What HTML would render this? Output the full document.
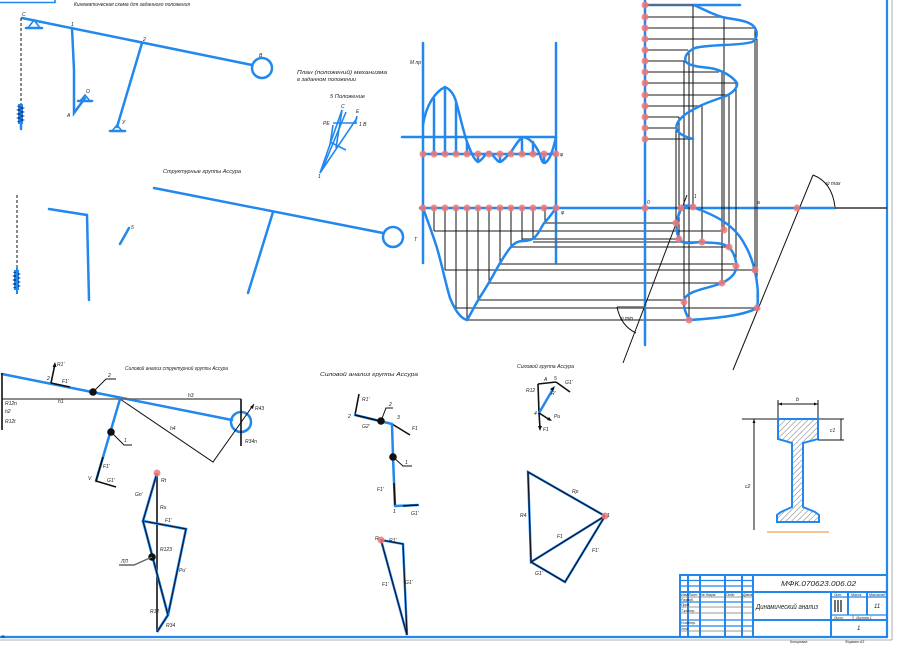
<!DOCTYPE html>
<html><head><meta charset="utf-8"><style>
html,body{margin:0;padding:0;background:#fff;}
svg{display:block;}
text{font-family:"Liberation Sans","DejaVu Sans",sans-serif;font-style:italic;fill:#222;}
.b{stroke:#2288ee;fill:none;stroke-width:2.5;stroke-linecap:round;}
.bt{stroke:#2288ee;fill:none;stroke-width:1.6;}
.k{stroke:#111;fill:none;stroke-width:1;}
.kk{stroke:#111;fill:none;stroke-width:1.6;}
.g{stroke:#666;fill:none;stroke-width:1.4;}
.p{fill:#f07878;fill-opacity:.85;}
.t{font-size:5px;}
.s{font-size:5.5px;}
</style></head><body>
<svg width="900" height="650" viewBox="0 0 900 650" xmlns="http://www.w3.org/2000/svg">
<rect width="900" height="650" fill="#fff"/>

<!-- frame -->
<path d="M0,2.5 H55 V0" class="bt"/>
<line x1="887" y1="0" x2="887" y2="637" stroke="#2288ee" stroke-width="2.2"/>
<line x1="892" y1="0" x2="892" y2="640" stroke="#999" stroke-width="0.8"/>
<line x1="0" y1="637" x2="887" y2="637" stroke="#2288ee" stroke-width="2.2"/>
<line x1="0" y1="640" x2="892" y2="640" stroke="#999" stroke-width="0.8"/>
<text x="1" y="639" font-size="7" style="font-style:normal">×</text>

<!-- ===== top-left kinematic scheme ===== -->
<text x="74" y="6" class="t" textLength="116" lengthAdjust="spacingAndGlyphs">Кинематическая схема для заданного положения</text>
<line x1="22" y1="18" x2="252" y2="65" class="b"/>
<circle cx="262" cy="68" r="10" class="b"/>
<text x="259" y="57" class="t">В</text>
<path d="M34,20 L28,28 L40,28 Z" class="bt"/><line x1="26" y1="28" x2="42" y2="28" class="b"/>
<text x="22" y="16" class="t">С</text>
<line x1="21" y1="18" x2="21" y2="127" stroke="#111" stroke-width="1" stroke-dasharray="3,2"/>
<rect x="18" y="104" width="5" height="20" fill="#2288ee"/>
<path d="M17,106 l7,2 l-7,2 l7,2 l-7,2 l7,2 l-7,2 l7,2 l-7,2" stroke="#113" stroke-width="0.6" fill="none"/>
<line x1="21" y1="124" x2="21" y2="129" class="b"/>
<polyline points="72,28 74,70 74,113 85,98" class="b"/>
<path d="M85,95 L80,101 L90,101 Z" class="bt"/><line x1="78" y1="101" x2="92" y2="101" class="b"/>
<text x="71" y="26" class="t">1</text><text x="67" y="117" class="t">А</text><text x="86" y="93" class="t">О</text>
<line x1="142" y1="43" x2="117" y2="127" class="b"/>
<path d="M117,125 L112,131 L122,131 Z" class="bt"/><line x1="110" y1="131" x2="125" y2="131" class="b"/>
<text x="143" y="41" class="t">2</text><text x="122" y="124" class="t">У</text>

<!-- second row -->
<text x="163" y="173" class="t" textLength="78" lengthAdjust="spacingAndGlyphs">Структурные группы Ассура</text>
<line x1="17" y1="195" x2="17" y2="293" stroke="#111" stroke-width="1" stroke-dasharray="3,2"/>
<rect x="14" y="270" width="5" height="20" fill="#2288ee"/>
<path d="M13,272 l7,2 l-7,2 l7,2 l-7,2 l7,2 l-7,2 l7,2 l-7,2" stroke="#113" stroke-width="0.6" fill="none"/>
<line x1="17" y1="268" x2="17" y2="294" stroke="#2288ee" stroke-width="2"/>
<polyline points="49,209 87,215 89,300" class="b"/>
<line x1="120" y1="244" x2="129" y2="228" class="b"/>
<text x="131" y="229" class="t">5</text>
<line x1="154" y1="188" x2="383" y2="233" class="b"/>
<circle cx="393" cy="237" r="10" class="b"/>
<line x1="273" y1="212" x2="248" y2="293" class="b"/>

<!-- middle small plan -->
<text x="297" y="74" class="t" textLength="90" lengthAdjust="spacingAndGlyphs">План (положений) механизма</text>
<text x="297" y="81" class="t" textLength="59" lengthAdjust="spacingAndGlyphs">в заданном положении</text>
<text x="330" y="98" class="t" textLength="35" lengthAdjust="spacingAndGlyphs">5 Положение</text>
<g class="bt">
<line x1="320" y1="173" x2="342" y2="110"/>
<line x1="322" y1="170" x2="346" y2="112"/>
<line x1="320" y1="173" x2="357" y2="118"/>
<line x1="342" y1="110" x2="336" y2="148"/>
<line x1="333" y1="123" x2="357" y2="123"/>
<line x1="357" y1="116" x2="355" y2="124"/>
<line x1="333" y1="125" x2="330" y2="145"/>
<line x1="330" y1="142" x2="346" y2="150"/>
</g>
<text x="341" y="108" class="t">С</text><text x="356" y="113" class="t">Е</text>
<text x="323" y="125" class="t">РЕ</text><text x="359" y="126" class="t">1 В</text>
<text x="318" y="178" class="t">1</text>

<!-- ===== top graph ===== -->
<line x1="423" y1="43" x2="423" y2="263" class="b"/>
<line x1="556" y1="43" x2="556" y2="263" class="b"/>
<line x1="402" y1="137" x2="556" y2="137" class="b"/>
<line x1="423" y1="154" x2="556" y2="154" class="b"/>
<text x="410" y="64" class="t">М пр</text>
<text x="560" y="156" class="t">φ</text>
<path d="M423,125 C426,105 435,92 445,87 C452,90 455,97 457,105 C461,120 463,130 467,142 C471,152 474,160 478,162 C483,160 486,152 489,152 C493,154 497,162 500,162 C505,160 508,154 511,152 C515,146 519,139 523,137 C530,138 536,145 540,155 C542,162 543,163 545,163 C550,160 553,150 556,137" class="b" stroke-width="2"/>
<g class="b" stroke-width="2">
<line x1="434" y1="154" x2="434" y2="99"/><line x1="445" y1="154" x2="445" y2="88"/>
<line x1="456" y1="154" x2="456" y2="103"/><line x1="467" y1="154" x2="467" y2="143"/>
<line x1="478" y1="154" x2="478" y2="161"/><line x1="500" y1="154" x2="500" y2="161"/>
<line x1="522" y1="154" x2="522" y2="138"/><line x1="533" y1="154" x2="533" y2="142"/>
<line x1="544" y1="154" x2="544" y2="162"/>
</g>
<g class="p">
<circle cx="423" cy="154" r="3.5"/><circle cx="434" cy="154" r="3.5"/><circle cx="445" cy="154" r="3.5"/><circle cx="456" cy="154" r="3.5"/><circle cx="467" cy="154" r="3.5"/><circle cx="478" cy="154" r="3.5"/><circle cx="489" cy="154" r="3.5"/><circle cx="500" cy="154" r="3.5"/><circle cx="511" cy="154" r="3.5"/><circle cx="522" cy="154" r="3.5"/><circle cx="533" cy="154" r="3.5"/><circle cx="544" cy="154" r="3.5"/><circle cx="556" cy="154" r="3.5"/>
</g>

<!-- ===== lower graph ===== -->
<line x1="420" y1="208" x2="835" y2="208" class="b"/>
<line x1="835" y1="208" x2="887" y2="208" stroke="#333" stroke-width="1.6"/>
<text x="414" y="241" class="t">Т</text>
<text x="561" y="214" class="t">φ</text>
<g class="g">
<line x1="545" y1="223" x2="676" y2="223"/>
<line x1="434" y1="231" x2="724" y2="231"/>
<line x1="522" y1="239" x2="679" y2="239"/>
<line x1="533" y1="242" x2="702" y2="242"/>
<line x1="511" y1="247" x2="729" y2="247"/>
<line x1="500" y1="264" x2="736" y2="264"/>
<line x1="445" y1="270" x2="755" y2="270"/>
<line x1="489" y1="283" x2="722" y2="283"/>
<line x1="478" y1="300" x2="684" y2="300"/>
<line x1="456" y1="308" x2="757" y2="308"/>
<line x1="467" y1="320" x2="689" y2="320"/>
</g>
<g class="k">
<line x1="434" y1="208" x2="434" y2="231"/><line x1="445" y1="208" x2="445" y2="270"/>
<line x1="456" y1="208" x2="456" y2="308"/><line x1="467" y1="208" x2="467" y2="320"/>
<line x1="478" y1="208" x2="478" y2="300"/><line x1="489" y1="208" x2="489" y2="283"/>
<line x1="500" y1="208" x2="500" y2="264"/><line x1="511" y1="208" x2="511" y2="247"/>
<line x1="522" y1="208" x2="522" y2="241"/><line x1="533" y1="208" x2="533" y2="239"/>
<line x1="545" y1="208" x2="545" y2="223"/>
</g>
<path d="M423,208 C428,222 433,235 437,248 C442,265 446,285 450,298 C455,310 460,318 467,320 C472,312 476,303 480,297 C488,285 495,272 500,263 C505,255 508,250 511,247 C515,242 520,241 523,241 C528,241 532,240 535,237 C540,232 542,225 545,222 C550,217 553,212 556,208" class="b" stroke-width="2"/>
<g class="p">
<circle cx="423" cy="208" r="3.5"/><circle cx="434" cy="208" r="3.5"/><circle cx="445" cy="208" r="3.5"/><circle cx="456" cy="208" r="3.5"/><circle cx="467" cy="208" r="3.5"/><circle cx="478" cy="208" r="3.5"/><circle cx="489" cy="208" r="3.5"/><circle cx="500" cy="208" r="3.5"/><circle cx="511" cy="208" r="3.5"/><circle cx="522" cy="208" r="3.5"/><circle cx="533" cy="208" r="3.5"/><circle cx="544" cy="208" r="3.5"/><circle cx="556" cy="208" r="3.5"/>
</g>

<!-- ===== top-right curve ===== -->
<line x1="645" y1="0" x2="645" y2="345" class="b"/>
<line x1="645" y1="5" x2="740" y2="5" class="b" stroke-width="1.8"/>
<g class="g">
<line x1="645" y1="5" x2="694" y2="5"/><line x1="645" y1="17" x2="723" y2="17"/>
<line x1="645" y1="28" x2="755" y2="28"/><line x1="645" y1="39" x2="756" y2="39"/>
<line x1="645" y1="50" x2="688" y2="50"/><line x1="645" y1="61" x2="684" y2="61"/>
<line x1="645" y1="72" x2="719" y2="72"/><line x1="645" y1="83" x2="737" y2="83"/>
<line x1="645" y1="95" x2="728" y2="95"/><line x1="645" y1="106" x2="700" y2="106"/>
<line x1="645" y1="117" x2="679" y2="117"/><line x1="645" y1="128" x2="676" y2="128"/>
<line x1="645" y1="139" x2="693" y2="139"/>
</g>
<g class="k">
<line x1="676" y1="128" x2="676" y2="223"/><line x1="679" y1="117" x2="679" y2="239"/>
<line x1="684" y1="61" x2="684" y2="300"/><line x1="689" y1="50" x2="689" y2="320"/>
<line x1="693" y1="5" x2="693" y2="208"/><line x1="702" y1="106" x2="702" y2="242"/>
<line x1="722" y1="72" x2="722" y2="283"/><line x1="724" y1="17" x2="724" y2="231"/>
<line x1="729" y1="95" x2="729" y2="247"/><line x1="736" y1="83" x2="736" y2="264"/>
<line x1="755" y1="28" x2="755" y2="270"/><line x1="757" y1="39" x2="757" y2="308"/>
</g>
<path d="M694,5 C705,10 712,14 722,17 C735,20 750,20 755,28 C758,33 757,40 752,42 C740,46 710,44 695,48 C686,52 684,58 686,62 C690,66 700,67 710,68 C722,70 732,76 737,83 C738,88 732,93 726,96 C715,100 705,103 698,107 C688,112 680,117 677,124 C675,130 678,135 693,139" class="b" stroke-width="1.8"/>
<g class="p">
<circle cx="645" cy="5" r="3.5"/><circle cx="645" cy="17" r="3.5"/><circle cx="645" cy="28" r="3.5"/><circle cx="645" cy="39" r="3.5"/><circle cx="645" cy="50" r="3.5"/><circle cx="645" cy="61" r="3.5"/><circle cx="645" cy="72" r="3.5"/><circle cx="645" cy="83" r="3.5"/><circle cx="645" cy="95" r="3.5"/><circle cx="645" cy="106" r="3.5"/><circle cx="645" cy="117" r="3.5"/><circle cx="645" cy="128" r="3.5"/><circle cx="645" cy="139" r="3.5"/>
</g>

<!-- ===== loop ===== -->
<line x1="623" y1="363" x2="687" y2="195" class="k"/>
<line x1="733" y1="370" x2="813" y2="175" class="k"/>
<path d="M813,175 Q832,182 835,207" class="k" stroke-width="1.2"/>
<text x="826" y="185" class="t">ψ max</text>
<line x1="617" y1="307" x2="645" y2="307" class="g"/>
<path d="M617,307 Q621,326 636,333" class="k" stroke-width="1.2"/>
<text x="620" y="320" class="t">ψ min</text>
<path d="M681,208 C685,205 690,205 695,208 C715,215 735,225 745,245 C755,262 760,290 757,308 C745,315 720,318 690,320 C686,315 682,305 685,298 C690,290 710,288 722,283 C732,278 738,272 736,262 C734,252 730,246 722,244 C715,242 705,243 700,242 C690,243 682,245 679,238 C675,230 676,220 681,208 Z" class="b" stroke-width="1.8"/>
<g class="p">
<circle cx="645" cy="208" r="3.5"/><circle cx="681" cy="208" r="3.5"/><circle cx="693" cy="207" r="3.5"/><circle cx="676" cy="223" r="3.5"/><circle cx="679" cy="239" r="3.5"/><circle cx="702" cy="242" r="3.5"/><circle cx="724" cy="230" r="3.5"/><circle cx="729" cy="247" r="3.5"/><circle cx="736" cy="266" r="3.5"/><circle cx="755" cy="270" r="3.5"/><circle cx="722" cy="283" r="3.5"/><circle cx="684" cy="302" r="3.5"/><circle cx="757" cy="308" r="3.5"/><circle cx="689" cy="320" r="3.5"/><circle cx="797" cy="208" r="3.5"/>
</g>
<text x="647" y="204" class="t">0</text><text x="757" y="204" class="t">а</text><text x="694" y="198" class="t">1</text>

<!-- ===== bottom-left force analysis ===== -->
<text x="125" y="370" class="t" textLength="103" lengthAdjust="spacingAndGlyphs">Силовой анализ структурной группы Ассура</text>
<line x1="2" y1="374" x2="232" y2="420" class="b"/>
<circle cx="241" cy="422" r="10" class="b" stroke-width="2"/>
<line x1="2" y1="399" x2="241" y2="399" class="g" stroke-width="1.6"/>
<line x1="2" y1="373" x2="2" y2="430" class="kk"/>
<line x1="241" y1="399" x2="241" y2="446" class="kk"/>
<polyline points="120,399 213,462 254,404" class="k"/>
<path d="M254,404 l-1,5 l-3,-2 Z" fill="#111"/>
<line x1="51" y1="383" x2="55" y2="364" class="kk"/>
<path d="M55,362 l-2.5,5 l4,0 Z" fill="#111"/>
<line x1="51" y1="383" x2="70" y2="387" class="kk"/>
<circle cx="93" cy="392" r="3.8" fill="#111"/>
<polyline points="93,392 106,379 116,379" class="k"/>
<line x1="120" y1="399" x2="96" y2="481" class="b"/>
<line x1="103" y1="457" x2="96" y2="481" class="kk"/>
<circle cx="111" cy="432" r="3.8" fill="#111"/>
<polyline points="111,432 124,445 132,445" class="k"/>
<line x1="96" y1="481" x2="116" y2="487" class="kk"/>
<text x="57" y="366" class="t">R1'</text><text x="62" y="383" class="t">F1'</text><text x="47" y="380" class="t">2</text>
<text x="108" y="377" class="t">2</text><text x="124" y="442" class="t">1</text>
<text x="5" y="405" class="t">R12n</text><text x="5" y="413" class="t">h2</text><text x="5" y="423" class="t">R12t</text>
<text x="58" y="403" class="t">h1</text><text x="188" y="397" class="t">h3</text><text x="170" y="430" class="t">h4</text>
<text x="255" y="410" class="t">R43</text><text x="245" y="443" class="t">R34n</text>
<text x="103" y="468" class="t">F1'</text><text x="107" y="482" class="t">G1'</text><text x="88" y="480" class="t">V</text>

<!-- force polygon 1 -->
<line x1="157" y1="473" x2="157" y2="632" class="kk"/>
<polyline points="157,473 143,521 186,529 168,615 157,632" stroke="#2288ee" stroke-width="2.6" fill="none"/>
<polyline points="157,473 143,521 186,529 168,615 157,632" stroke="#112" stroke-width="1.1" fill="none"/>
<line x1="143" y1="521" x2="168" y2="615" stroke="#2288ee" stroke-width="2.6"/>
<line x1="143" y1="521" x2="168" y2="615" stroke="#112" stroke-width="1.1"/>
<circle cx="157" cy="473" r="3.5" class="p"/>
<circle cx="152" cy="557" r="3.8" fill="#111"/>
<polyline points="152,557 134,565 119,565" class="g"/>
<text x="161" y="482" class="t">Rt</text><text x="135" y="496" class="t">Gn'</text><text x="160" y="509" class="t">Ru</text>
<text x="165" y="522" class="t">F1'</text><text x="160" y="551" class="t">R123</text><text x="179" y="572" class="t">Pu'</text>
<text x="150" y="613" class="t">R12</text><text x="166" y="627" class="t">R34</text><text x="121" y="563" class="t">ЛЛ</text>

<!-- ===== bottom-middle group ===== -->
<text x="320" y="376" class="t" textLength="98" lengthAdjust="spacingAndGlyphs">Силовой анализ группы Ассура</text>
<line x1="355" y1="415" x2="359" y2="394" class="kk"/>
<line x1="355" y1="415" x2="392" y2="424" class="b"/>
<line x1="355" y1="415" x2="380" y2="421" class="kk"/>
<line x1="392" y1="424" x2="410" y2="435" class="kk"/>
<line x1="392" y1="424" x2="393" y2="457" class="b"/>
<line x1="393" y1="457" x2="395" y2="506" class="b"/>
<line x1="394" y1="483" x2="395" y2="506" class="kk"/>
<line x1="395" y1="506" x2="418" y2="505" class="b"/>
<line x1="403" y1="506" x2="418" y2="505" class="kk"/>
<circle cx="381" cy="421" r="3.8" fill="#111"/>
<polyline points="381,421 386,408 393,408" class="k"/>
<circle cx="393" cy="457" r="3.8" fill="#111"/>
<polyline points="393,457 403,466 412,466" class="k"/>
<text x="362" y="401" class="t">R1'</text><text x="348" y="418" class="t">2</text><text x="362" y="428" class="t">G2'</text>
<text x="389" y="406" class="t">2</text><text x="397" y="419" class="t">3</text><text x="412" y="430" class="t">F1</text>
<text x="405" y="464" class="t">1</text><text x="377" y="491" class="t">F1'</text><text x="393" y="513" class="t">1</text><text x="411" y="515" class="t">G1'</text>
<polygon points="381,540 403,544 407,635" stroke="#2288ee" stroke-width="2.4" fill="none"/>
<polygon points="381,540 403,544 407,635" stroke="#112" stroke-width="1.1" fill="none"/>
<circle cx="381" cy="540" r="3.5" class="p"/>
<text x="375" y="540" class="t">R</text><text x="389" y="542" class="t">R1'</text><text x="382" y="586" class="t">F1'</text><text x="405" y="584" class="t">G1'</text>

<!-- ===== top-right small group ===== -->
<text x="517" y="368" class="t" textLength="57" lengthAdjust="spacingAndGlyphs">Силовой группа Ассура</text>
<line x1="538" y1="384" x2="556" y2="382" class="kk"/>
<line x1="538" y1="384" x2="539" y2="413" class="kk"/>
<line x1="539" y1="413" x2="553" y2="389" class="b"/>
<path d="M555,386 l-5,3 l3,2 Z" fill="#111"/>
<line x1="556" y1="382" x2="570" y2="392" class="kk"/>
<line x1="539" y1="413" x2="540" y2="428" class="kk"/>
<path d="M540,431 l-2,-5 l4,0 Z" fill="#111"/>
<line x1="539" y1="413" x2="550" y2="420" class="kk"/>
<path d="M552,421 l-5,-1 l2,-3 Z" fill="#111"/>
<text x="544" y="381" class="t">A</text><text x="526" y="392" class="t">R12</text><text x="554" y="380" class="t">5</text>
<text x="565" y="384" class="t">G1'</text><text x="551" y="395" class="t">R'</text><text x="534" y="415" class="t">4</text>
<text x="554" y="418" class="t">Pu</text><text x="543" y="431" class="t">F1</text>
<g stroke="#2288ee" stroke-width="2.4" fill="none">
<polyline points="605,516 528,472 531,562 605,516"/><polyline points="531,562 565,582 605,516"/>
</g>
<g stroke="#112" stroke-width="1.2" fill="none">
<polyline points="605,516 528,472 531,562 605,516"/><polyline points="531,562 565,582 605,516"/>
</g>
<circle cx="605" cy="516" r="3.5" class="p"/>
<text x="572" y="493" class="t">Rp</text><text x="520" y="517" class="t">R4</text><text x="557" y="538" class="t">F1</text>
<text x="592" y="552" class="t">F1'</text><text x="535" y="575" class="t">G1'</text><text x="607" y="517" class="t">1</text>

<!-- ===== I-beam ===== -->
<defs>
<pattern id="h" width="4" height="4" patternUnits="userSpaceOnUse" patternTransform="rotate(45)">
<line x1="0" y1="0" x2="0" y2="4" stroke="#555" stroke-width="0.8"/>
</pattern>
</defs>
<line x1="742" y1="419" x2="844" y2="419" class="g"/>
<line x1="778" y1="404" x2="818" y2="404" class="k"/>
<path d="M778,404 l4,-1.5 l0,3 Z M818,404 l-4,-1.5 l0,3 Z" fill="#111"/>
<line x1="778" y1="400" x2="778" y2="419" class="k"/><line x1="818" y1="400" x2="818" y2="419" class="k"/>
<text x="796" y="401" class="s">b</text>
<path d="M778,419 H818 V439 L803,443 V507 L815,512 L819,515 V522 H777 V515 L781,512 L792,507 V443 L778,439 Z" fill="url(#h)" stroke="#2288ee" stroke-width="2"/>
<line x1="818" y1="440" x2="844" y2="440" class="k"/>
<line x1="841" y1="419" x2="841" y2="440" class="k"/>
<text x="830" y="432" class="t">c1</text>
<line x1="754" y1="419" x2="754" y2="530" class="k"/>
<path d="M754,419 l-1.5,4 l3,0 Z" fill="#111"/>
<text x="745" y="488" class="t">c2</text>
<line x1="767" y1="532" x2="829" y2="532" stroke="#f5b070" stroke-width="1.5"/>

<!-- ===== title block ===== -->
<g stroke="#2288ee" stroke-width="2" fill="none">
<rect x="680" y="575" width="207" height="62"/>
<line x1="753" y1="575" x2="753" y2="637"/>
<line x1="680" y1="592" x2="887" y2="592"/>
<line x1="753" y1="620" x2="887" y2="620"/>
<line x1="831" y1="592" x2="831" y2="637"/>
<line x1="848" y1="592" x2="848" y2="615"/>
<line x1="867" y1="592" x2="867" y2="615"/>
<line x1="688" y1="575" x2="688" y2="637"/>
<line x1="700" y1="575" x2="700" y2="637"/>
<line x1="725" y1="575" x2="725" y2="637"/>
<line x1="742" y1="575" x2="742" y2="637"/>
</g>
<g stroke="#2288ee" stroke-width="1.3">
<line x1="680" y1="580.5" x2="753" y2="580.5"/><line x1="680" y1="586" x2="753" y2="586"/>
<line x1="680" y1="602" x2="753" y2="602"/><line x1="680" y1="620" x2="753" y2="620"/>
<line x1="680" y1="626" x2="753" y2="626"/><line x1="831" y1="597" x2="887" y2="597"/>
<line x1="831" y1="615" x2="887" y2="615"/>
</g>
<g stroke="#777" stroke-width="0.8">
<line x1="680" y1="597" x2="753" y2="597"/><line x1="680" y1="607" x2="753" y2="607"/>
<line x1="680" y1="613" x2="753" y2="613"/><line x1="680" y1="631" x2="753" y2="631"/>
<line x1="853" y1="615" x2="853" y2="620"/>
</g>
<g stroke="#111" stroke-width="1.2">
<line x1="835" y1="600" x2="835" y2="612"/><line x1="838" y1="600" x2="838" y2="612"/><line x1="841" y1="600" x2="841" y2="612"/>
</g>
<text x="781" y="586" font-size="7.5" textLength="75" lengthAdjust="spacingAndGlyphs">МФК.070623.006.02</text>
<text x="756" y="609" font-size="7" textLength="62" lengthAdjust="spacingAndGlyphs">Динамический анализ</text>
<g font-size="3.5" style="font-style:normal">
<text x="681" y="596">Изм Лист</text><text x="701" y="596">№ докум.</text><text x="726" y="596">Подп.</text><text x="743" y="596">Дата</text>
<text x="681" y="601">Разраб.</text><text x="681" y="606">Пров.</text><text x="681" y="612">Т.контр.</text>
<text x="681" y="624">Н.контр.</text><text x="681" y="630">Утв.</text>
<text x="834" y="596">Лит.</text><text x="851" y="596">Масса</text><text x="869" y="596">Масштаб</text>
<text x="834" y="619">Лист</text><text x="856" y="619">Листов 1</text>
<text x="790" y="643">Копировал</text><text x="845" y="643">Формат А3</text>
</g>
<text x="874" y="608" font-size="6">11</text>
<text x="857" y="630" font-size="6">1</text>
</svg>
</body></html>
